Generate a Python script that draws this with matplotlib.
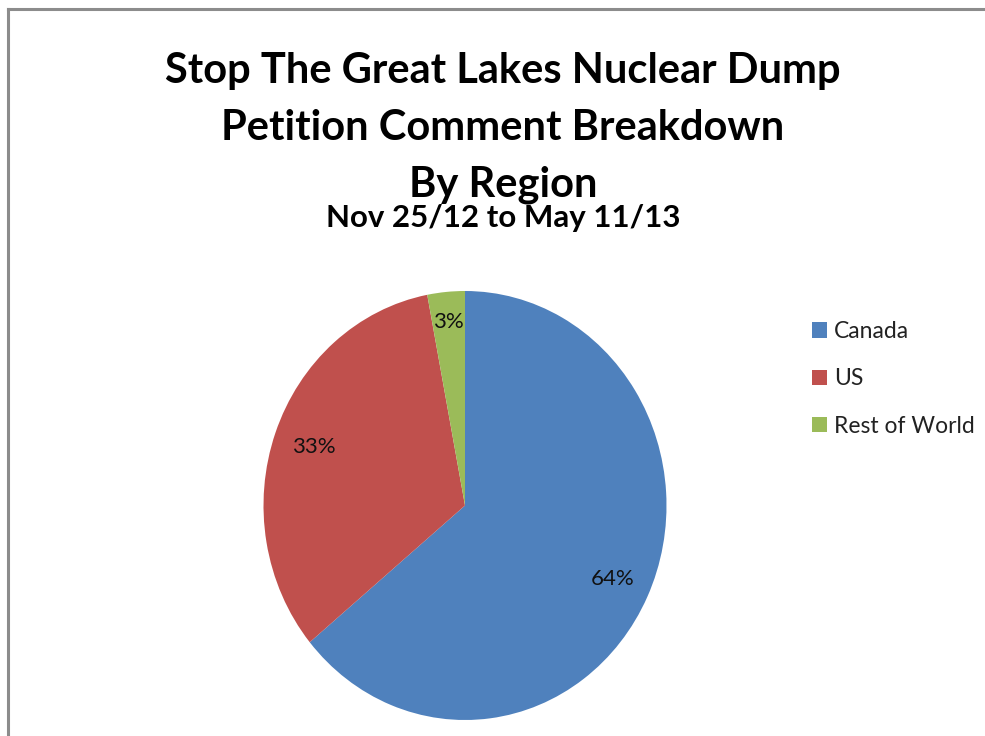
import matplotlib
matplotlib.use("Agg")
import matplotlib.pyplot as plt
import numpy as np
from matplotlib.lines import Line2D

# Data
regions = ["Canada", "US", "Rest of World"]
shares = [64, 33, 3]
colors = ["#4F81BD", "#C0504D", "#9BBB59"]

W, H = 985, 736
fig = plt.figure(figsize=(W / 100, H / 100), dpi=100)
fig.patch.set_facecolor("white")
FONT = ["Lato", "DejaVu Sans"]

# Outer border (left and top visible)
fig.add_artist(Line2D([7.5 / W, 7.5 / W], [0, 1 - 9 / H], transform=fig.transFigure,
                      color="#8c8c8c", lw=2.2))
fig.add_artist(Line2D([7.5 / W, 1], [1 - 9 / H, 1 - 9 / H], transform=fig.transFigure,
                      color="#8c8c8c", lw=2.2))

# Pie axes
cx, cy, rx, ry = 465, 505.5, 201.5, 214.5
ax = fig.add_axes([(cx - rx) / W, 1 - (cy + ry) / H, 2 * rx / W, 2 * ry / H])
wedges, texts, autotexts = ax.pie(shares, colors=colors, startangle=90, counterclock=False,
                                  autopct="%1.0f%%", pctdistance=0.8, radius=1,
                                  wedgeprops=dict(linewidth=0),
                                  textprops=dict(fontsize=16, family=FONT, color="#111111"))
ax.set_aspect("auto")
ax.set_xlim(-1, 1)
ax.set_ylim(-1, 1)
ax.axis("off")

label_r = [0.81, 0.80, 0.86]
for w, t, r in zip(wedges, autotexts, label_r):
    ang = np.deg2rad((w.theta1 + w.theta2) / 2)
    t.set_position((r * np.cos(ang), r * np.sin(ang)))
    t.set_ha("center")
    t.set_va("center")

# Titles
title_lines = ["Stop The Great Lakes Nuclear Dump", "Petition Comment Breakdown", "By Region"]
baselines = [83, 140, 196]
for line, b in zip(title_lines, baselines):
    fig.text(503 / W, 1 - b / H, line, ha="center", va="baseline", fontsize=30,
             fontweight="bold", family=FONT, color="black")
fig.text(503 / W, 1 - 227 / H, "Nov 25/12 to May 11/13", ha="center", va="baseline",
         fontsize=22.5, fontweight="bold", family=FONT, color="black")

# Legend
leg = fig.legend(wedges, regions, loc="upper left",
                 bbox_to_anchor=(812 / W, 1 - 321 / H), frameon=False,
                 prop=dict(family=FONT, size=16.5), handlelength=0.65, handleheight=0.65,
                 handletextpad=0.3, labelspacing=1.15, borderaxespad=0, borderpad=0)
for t in leg.get_texts():
    t.set_color("#222222")

fig.savefig("out.png", dpi=100, facecolor="white")
